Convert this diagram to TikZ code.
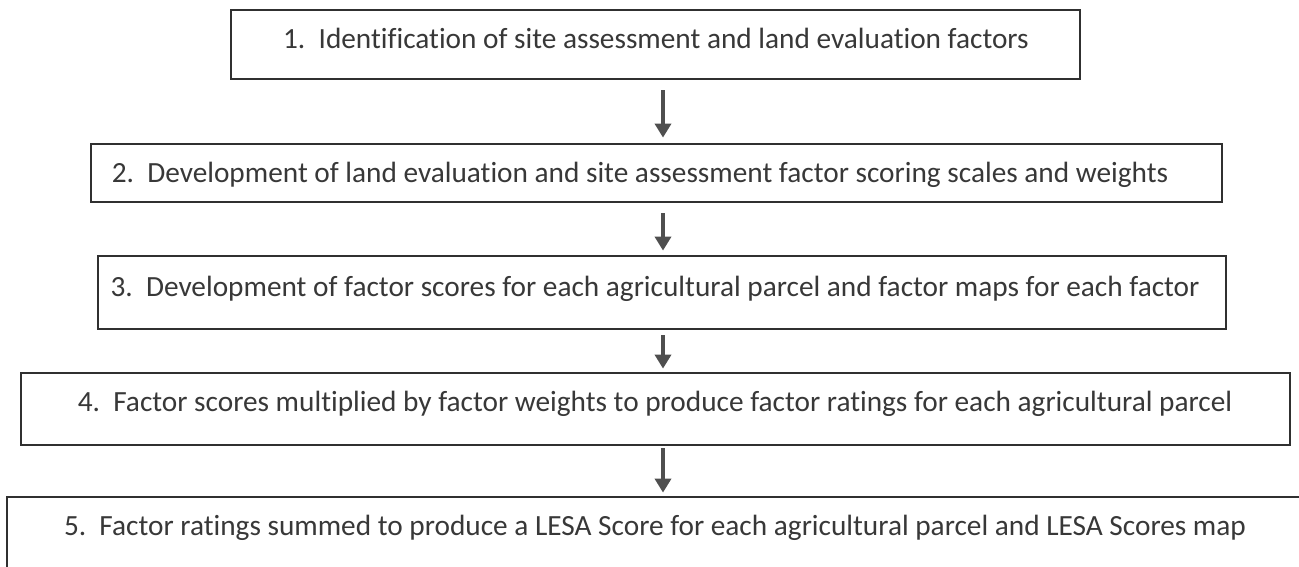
\documentclass[tikz,border=0pt]{standalone}
\usepackage{fontspec}
\setmainfont{Carlito}[Ligatures=CommonOff]
\usetikzlibrary{arrows.meta}
\definecolor{ink}{HTML}{383838}
\definecolor{edge}{HTML}{303030}
\begin{document}
\begin{tikzpicture}[x=1pt,y=-1pt,
  stepbox/.style={draw=edge,line width=2.8pt,inner sep=0pt,fill=white},
  steptext/.style={anchor=base,inner sep=0pt,text=ink,font=\fontsize{29.3}{33}\selectfont},
  flow/.style={draw=edge!85,line width=4.5pt,-{Triangle[width=16pt,length=14pt]}}]
\useasboundingbox (0,0) rectangle (1299,566);
\node[stepbox,minimum width=849pt,minimum height=69pt] (b1) at (655.5,44.5) {};
\node[stepbox,minimum width=1131pt,minimum height=58pt] (b2) at (656.5,173) {};
\node[stepbox,minimum width=1128pt,minimum height=73pt] (b3) at (662,292.5) {};
\node[stepbox,minimum width=1269pt,minimum height=72pt] (b4) at (655.5,409) {};
\node[stepbox,minimum width=1298pt,minimum height=78pt] (b5) at (656,536) {};
\node[steptext] (t1) at (656,48) {1.\ \ Identification of site assessment and land evaluation factors};
\node[steptext] (t2) at (640,182) {2.\ \ Development of land evaluation and site assessment factor scoring scales and weights};
\node[steptext] (t3) at (655,296) {3.\ \ Development of factor scores for each agricultural parcel and factor maps for each factor};
\node[steptext] (t4) at (655,411) {4.\ \ Factor scores multiplied by factor weights to produce factor ratings for each agricultural parcel};
\node[steptext] (t5) at (655,535) {5.\ \ Factor ratings summed to produce a LESA Score for each agricultural parcel and LESA Scores map};
\coordinate (ax) at (663,0);
\draw[flow,shorten <=10pt,shorten >=5pt] (b1.south -| ax) -- (b2.north -| ax);
\draw[flow,shorten <=10pt,shorten >=4pt] (b2.south -| ax) -- (b3.north -| ax);
\draw[flow,shorten <=5pt,shorten >=3pt] (b3.south -| ax) -- (b4.north -| ax);
\draw[flow,shorten <=2pt,shorten >=3pt] (b4.south -| ax) -- (b5.north -| ax);
\end{tikzpicture}
\end{document}
